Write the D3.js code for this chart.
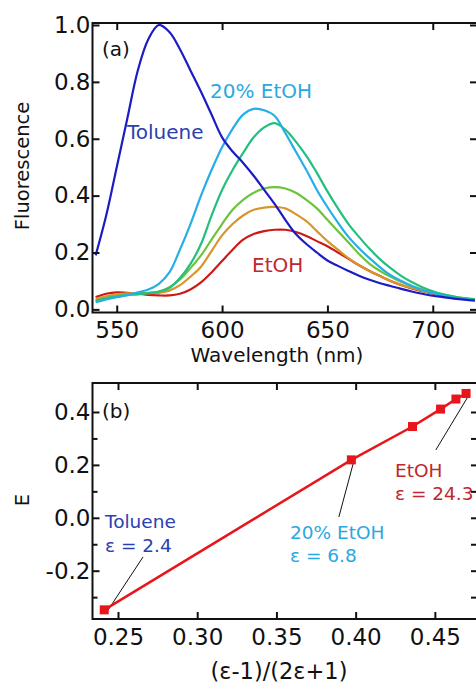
<!DOCTYPE html>
<html><head><meta charset="utf-8">
<script src="https://cdn.jsdelivr.net/npm/d3@7"></script>
<style>body{margin:0;background:#fff;overflow:hidden} text{font-family:"DejaVu Sans",sans-serif}</style>
</head><body><svg id="c" width="476" height="685"></svg>
<script>
// ---------- Panel (a) data ----------
const wavelength = [540,545,550,555,560,565,570,575,580,585,590,595,600,605,610,615,620,625,630,635,640,645,650,655,660,665,670,675,680,685,690,695,700,705,710,715,720];
const toluene  = [0.19,0.33,0.50,0.67,0.84,0.95,1.00,0.975,0.915,0.84,0.765,0.685,0.605,0.555,0.515,0.47,0.42,0.37,0.315,0.265,0.23,0.20,0.172,0.153,0.135,0.118,0.104,0.092,0.082,0.072,0.063,0.055,0.048,0.043,0.038,0.034,0.031];
const etoh20   = [0.025,0.035,0.043,0.05,0.06,0.07,0.09,0.13,0.21,0.30,0.40,0.49,0.57,0.635,0.685,0.705,0.70,0.68,0.62,0.555,0.49,0.42,0.36,0.305,0.255,0.215,0.18,0.148,0.12,0.10,0.082,0.068,0.058,0.048,0.041,0.036,0.032];
const mixA     = [0.03,0.038,0.045,0.05,0.053,0.057,0.063,0.075,0.11,0.16,0.23,0.33,0.42,0.49,0.55,0.605,0.64,0.655,0.632,0.59,0.54,0.48,0.415,0.355,0.30,0.255,0.213,0.176,0.145,0.118,0.096,0.078,0.064,0.053,0.045,0.039,0.035];
const mixB     = [0.031,0.040,0.048,0.053,0.056,0.058,0.062,0.078,0.105,0.145,0.19,0.245,0.30,0.35,0.385,0.41,0.425,0.43,0.425,0.41,0.385,0.355,0.315,0.275,0.235,0.195,0.16,0.135,0.115,0.097,0.082,0.07,0.061,0.052,0.045,0.04,0.036];
const mixC     = [0.037,0.046,0.053,0.056,0.057,0.057,0.058,0.066,0.085,0.115,0.15,0.205,0.26,0.30,0.33,0.35,0.358,0.36,0.355,0.335,0.31,0.275,0.24,0.21,0.18,0.155,0.135,0.117,0.10,0.086,0.075,0.065,0.057,0.05,0.043,0.038,0.034];
const etoh     = [0.043,0.055,0.06,0.058,0.055,0.051,0.049,0.049,0.055,0.07,0.095,0.13,0.17,0.21,0.245,0.265,0.275,0.28,0.28,0.272,0.258,0.24,0.222,0.20,0.178,0.155,0.135,0.117,0.10,0.086,0.074,0.064,0.055,0.048,0.042,0.037,0.033];
const spectra = [etoh, mixC, mixB, mixA, etoh20, toluene];
const spectraColors = ["#cc1a1a","#d9952a","#6cc43a","#22bf7e","#26aee6","#1c1cc4"];
const wlTicks = [550,600,650,700];
const flTicks = [0.0,0.2,0.4,0.6,0.8,1.0];

// ---------- Panel (b) data ----------
const polarity = [0.2413,0.3973,0.4359,0.4536,0.4633,0.4697];
const energyE  = [-0.348,0.219,0.345,0.411,0.449,0.470];
const polTicks = [0.25,0.30,0.35,0.40,0.45];
const eTicks   = [-0.2,0.0,0.2,0.4];
const eMinor   = [-0.3,-0.1,0.1,0.3];

const svg = d3.select("#c");
const black = "#111";
const TICKFONT = 23;

function frame(g, x0, x1, y0, y1) {
  g.append("rect").attr("x", x0).attr("y", y0).attr("width", x1 - x0).attr("height", y1 - y0)
    .attr("fill", "none").attr("stroke", black).attr("stroke-width", 2);
}
function styleTicks(g) {
  g.select(".domain").remove();
  g.selectAll("line").attr("stroke", black).attr("stroke-width", 2);
  g.selectAll("text").attr("font-size", TICKFONT).attr("fill", black).attr("font-family", "DejaVu Sans");
}

// ===== Panel (a) =====
const ax = d3.scaleLinear().domain([538.5, 721]).range([92.5, 477]);
const ay = d3.scaleLinear().domain([-0.011, 1.007]).range([312.5, 23]);
const ga = svg.append("g");

const line = d3.line().x((d, i) => ax(wavelength[i])).y(d => ay(d)).curve(d3.curveCatmullRom.alpha(0.5));
spectra.forEach((s, k) => {
  ga.append("path").datum(s).attr("d", line).attr("fill", "none")
    .attr("stroke", spectraColors[k]).attr("stroke-width", 2.2).attr("stroke-linejoin", "round");
});
frame(ga, 92.5, 477, 23, 312.5);

ga.append("g").attr("transform", "translate(0,312.5)")
  .call(d3.axisBottom(ax).tickValues(wlTicks).tickSize(-7).tickPadding(9).tickFormat(d3.format("d")))
  .call(styleTicks).call(g => g.selectAll("text").attr("dy", "0.71em"));
ga.append("g").attr("transform", "translate(0,23)")
  .call(d3.axisTop(ax).tickValues(wlTicks).tickSize(-7).tickFormat(""))
  .call(styleTicks);
ga.append("g").attr("transform", "translate(92.5,0)")
  .call(d3.axisLeft(ay).tickValues(flTicks).tickSize(-7).tickPadding(2).tickFormat(d3.format(".1f")))
  .call(styleTicks);
ga.append("g").attr("transform", "translate(477,0)")
  .call(d3.axisRight(ay).tickValues(flTicks).tickSize(-7).tickFormat(""))
  .call(styleTicks);

ga.append("text").attr("x", 277).attr("y", 362).attr("text-anchor", "middle").attr("font-size", 20).attr("fill", black).text("Wavelength (nm)");
ga.append("text").attr("transform", "translate(29,166) rotate(-90)").attr("text-anchor", "middle").attr("font-size", 19.5).attr("fill", black).text("Fluorescence");
ga.append("text").attr("x", 102).attr("y", 56).attr("font-size", 20).attr("fill", black).text("(a)");
ga.append("text").attr("x", 127).attr("y", 139).attr("font-size", 20).attr("fill", "#2c40b0").text("Toluene");
ga.append("text").attr("x", 210).attr("y", 98).attr("font-size", 20).attr("fill", "#2aa8e0").text("20% EtOH");
ga.append("text").attr("x", 252).attr("y", 272).attr("font-size", 20).attr("fill", "#c0282c").text("EtOH");

// ===== Panel (b) =====
const bx = d3.scaleLinear().domain([0.2339, 0.4766]).range([92.5, 477]);
const by = d3.scaleLinear().domain([-0.3826, 0.5096]).range([619, 383]);
const gb = svg.append("g");

const ann = [
  {i: 0, x1: 0.2658, y1: -0.148, text: ["Toluene", "ε = 2.4"], tx: 105, ty: [528, 552], color: "#2c40b0"},
  {i: 1, x1: 0.3894, y1: 0.003, text: ["20% EtOH", "ε = 6.8"], tx: 290, ty: [539, 562], color: "#2aa8e0"},
  {i: 5, x1: 0.4506, y1: 0.2564, text: ["EtOH", "ε = 24.3"], tx: 395, ty: [477, 500], color: "#c0282c"}
];
ann.forEach(a => {
  gb.append("line").attr("x1", bx(a.x1)).attr("y1", by(a.y1)).attr("x2", bx(polarity[a.i]) + 2).attr("y2", by(energyE[a.i]) + 3)
    .attr("stroke", black).attr("stroke-width", 1);
  a.text.forEach((t, j) => gb.append("text").attr("x", a.tx).attr("y", a.ty[j]).attr("font-size", 18.5).attr("fill", a.color).text(t));
});

const pts = polarity.map((p, i) => [p, energyE[i]]);
gb.append("path").datum(pts).attr("d", d3.line().x(d => bx(d[0])).y(d => by(d[1])))
  .attr("fill", "none").attr("stroke", "#e8161a").attr("stroke-width", 2.5);
gb.selectAll("rect.m").data(pts).join("rect").attr("class", "m")
  .attr("x", d => bx(d[0]) - 4.5).attr("y", d => by(d[1]) - 4.5).attr("width", 9).attr("height", 9).attr("fill", "#e8161a");

frame(gb, 92.5, 477, 383, 619);
gb.append("g").attr("transform", "translate(0,619)")
  .call(d3.axisBottom(bx).tickValues(polTicks).tickSize(-7).tickPadding(10).tickFormat(d3.format(".2f")))
  .call(styleTicks).call(g => g.selectAll("text").attr("dy", "0.71em"));
gb.append("g").attr("transform", "translate(0,383)")
  .call(d3.axisTop(bx).tickValues(polTicks).tickSize(-7).tickFormat(""))
  .call(styleTicks);
gb.append("g").attr("transform", "translate(92.5,0)")
  .call(d3.axisLeft(by).tickValues(eTicks).tickSize(-7).tickPadding(2).tickFormat(d => d3.format(".1f")(d).replace("−", "-")))
  .call(styleTicks);
gb.append("g").attr("transform", "translate(92.5,0)")
  .call(d3.axisLeft(by).tickValues(eMinor).tickSize(-5).tickFormat(""))
  .call(styleTicks);
gb.append("g").attr("transform", "translate(477,0)")
  .call(d3.axisRight(by).tickValues(eTicks.concat(eMinor)).tickSize(-6).tickFormat(""))
  .call(styleTicks);

gb.append("text").attr("x", 279).attr("y", 679).attr("text-anchor", "middle").attr("font-size", 22.5).attr("fill", black).text("(ε-1)/(2ε+1)");
gb.append("text").attr("transform", "translate(29,500) rotate(-90)").attr("text-anchor", "middle").attr("font-size", 19.5).attr("fill", black).text("E");
gb.append("text").attr("x", 102).attr("y", 418).attr("font-size", 20).attr("fill", black).text("(b)");
</script></body></html>
